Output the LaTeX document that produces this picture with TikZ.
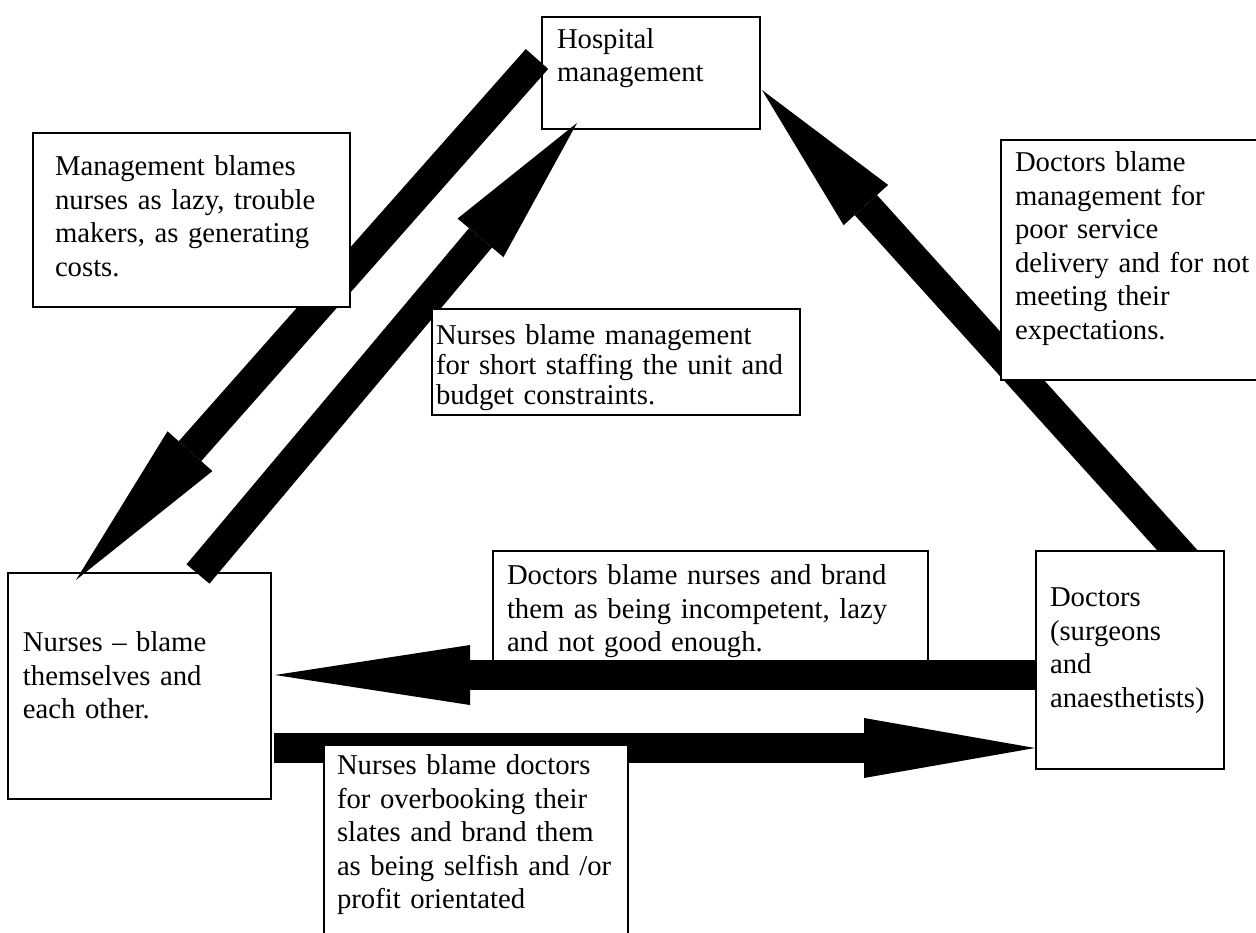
\documentclass[tikz,border=0pt]{standalone}
\usepackage{fontspec}
\setmainfont{Liberation Serif}
\usetikzlibrary{arrows.meta}
\usetikzlibrary{backgrounds}
\hyphenpenalty=10000

\begin{document}
\begin{tikzpicture}[x=1pt, y=-1pt,
              tbox/.style={draw, line width=2pt, fill=white, anchor=north west,
              align=left, outer sep=0pt, inner ysep=0pt,
              font=\fontsize{28.7}{33.5}\selectfont},
              blame/.style={line width=30pt,
              -{Triangle[length=#1, width=60pt, line width=0pt]}}]
    \useasboundingbox (0,0) rectangle (1256,933);

    % the three parties
    \node[tbox, inner xsep=15pt, text width=188pt, text height=31.5pt, text depth=80.5pt] (hosp) at (542,17) {Hospital\\management};
    \node[tbox, inner xsep=15pt, text width=233pt, text height=78.6pt, text depth=147.4pt] (nurses) at (8,573) {Nurses – blame\\themselves and\\each other.};
    \node[tbox, inner xsep=14pt, text width=160pt, text height=55.6pt, text depth=162.4pt] (doctors) at (1036,551) {Doctors\\(surgeons\\and\\anaesthetists)};

    % who blames whom
    \begin{pgfonlayer}{background}
    \path [blame=155pt] ([xshift=61.4pt,yshift=-14.8pt]doctors.north) edge ([xshift=2pt,yshift=-17pt]hosp.east);
    \path [blame=171pt] ([xshift=3pt,yshift=-62pt]nurses.east) edge ([xshift=-1pt,yshift=-88pt]doctors.west);
    \end{pgfonlayer}
    \path [blame=172pt] ([xshift=-5pt,yshift=14pt]hosp.west) edge ([xshift=-63.5pt,yshift=-7pt]nurses.north);
    \path [blame=150pt] ([xshift=58.5pt,yshift=-1pt]nurses.north) edge ([xshift=-74pt,yshift=6pt]hosp.south);
    \path [blame=195pt] ([yshift=-15pt]doctors.west) edge ([xshift=4pt,yshift=11pt]nurses.east);

    % what they say
    \node[tbox, inner xsep=22pt, text width=273pt, text height=43pt, text depth=131pt] (mgmtnurses) at (33,133) {Management blames\\nurses as lazy, trouble\\makers, as generating\\costs.};
    \node[tbox, inner xsep=4pt, text width=360pt, text height=35.6pt, text depth=70.4pt, font=\fontsize{28.7}{30}\selectfont] (nursesmgmt) at (432,309) {Nurses blame management\\for short staffing the unit and\\budget constraints.};
    \node[tbox, inner xsep=14pt, text width=237pt, text height=31.6pt, text depth=208.4pt] (docsmgmt) at (1001,140) {Doctors blame\\management for\\poor service\\delivery and for not\\meeting their\\expectations.};
    \node[tbox, inner xsep=14pt, text width=407pt, text height=33.6pt, text depth=76.4pt] (docsnurses) at (493,551) {Doctors blame nurses and brand\\them as being incompetent, lazy\\and not good enough.};
    \node[tbox, inner xsep=13pt, text width=278pt, text height=29.6pt, text depth=205.4pt] (nursesdocs) at (324,745) {Nurses blame doctors\\for overbooking their\\slates and brand them\\as being selfish and /or\\profit orientated};
\end{tikzpicture}
\end{document}
